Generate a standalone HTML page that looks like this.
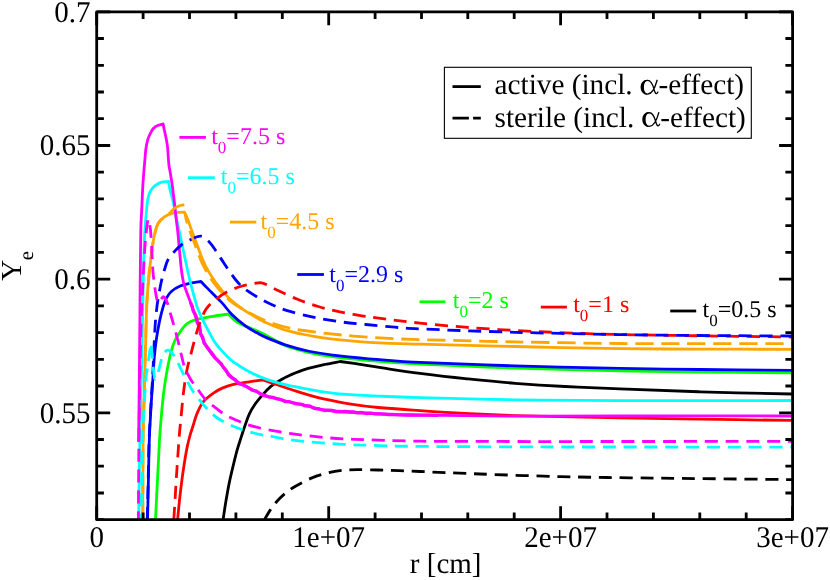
<!DOCTYPE html>
<html><head><meta charset="utf-8"><title>Ye vs r</title>
<style>
html,body{margin:0;padding:0;background:#fff;}
body{width:830px;height:580px;position:relative;overflow:hidden;font-family:"Liberation Serif",serif;}
</style></head><body>
<svg width="830" height="580" viewBox="0 0 830 580" style="position:absolute;left:0;top:0;will-change:transform;text-rendering:geometricPrecision">
<defs><clipPath id="pc"><rect x="96.7" y="11.8" width="695.9" height="507.9"/></clipPath></defs>
<rect x="0" y="0" width="830" height="580" fill="#ffffff"/>
<g clip-path="url(#pc)" fill="none" stroke-width="2.8" stroke-linejoin="round" stroke-linecap="butt">
<path d="M223.1,519.7 C223.5,516.9 224.7,508.6 225.7,502.6 C226.7,496.6 227.9,489.4 229.1,483.6 C230.2,477.9 231.3,473.6 232.6,468.1 C233.9,462.7 235.5,456.1 236.9,450.9 C238.3,445.7 239.8,441.4 241.2,437.1 C242.6,432.8 243.8,428.9 245.2,425.0 C246.6,421.1 247.8,417.2 249.4,413.8 C251.0,410.4 252.8,407.5 255.0,404.3 C257.2,401.1 260.2,397.6 262.8,394.6 C265.4,391.6 268.0,388.8 270.9,386.4 C273.8,384.0 276.8,382.1 280.2,380.2 C283.6,378.2 286.9,376.5 291.0,374.7 C295.1,372.9 299.4,371.0 305.0,369.3 C310.6,367.6 318.7,365.8 324.5,364.5 C330.3,363.2 337.4,362.0 340.0,361.5 C343.6,362.0 354.3,363.5 361.7,364.6 C369.1,365.7 374.7,366.7 384.4,368.2 C394.1,369.7 406.6,371.7 420.0,373.4 C433.4,375.1 449.2,377.0 465.0,378.6 C480.8,380.2 498.3,382.0 515.0,383.3 C531.7,384.6 547.5,385.6 565.0,386.5 C582.5,387.4 597.5,387.9 620.0,388.8 C642.5,389.7 671.3,390.9 700.0,391.8 C728.7,392.7 776.7,393.6 792.0,394.0" stroke="#000000"/>
<path d="M177.6,519.7 C178.0,515.4 179.2,502.6 180.2,494.0 C181.2,485.4 182.4,475.8 183.6,468.0 C184.8,460.2 186.0,452.8 187.1,447.4 C188.2,442.0 189.0,439.1 190.0,435.5 C191.0,431.9 191.8,429.8 193.0,426.0 C194.2,422.2 195.6,416.7 197.4,412.6 C199.2,408.5 201.0,404.5 203.8,401.2 C206.6,397.9 211.0,394.8 214.2,392.6 C217.4,390.4 219.6,389.3 222.8,387.9 C226.0,386.5 229.2,385.3 233.6,384.3 C238.0,383.3 244.2,382.5 249.1,381.8 C254.0,381.1 260.5,380.2 262.8,379.9 C265.2,380.7 272.1,383.1 277.1,384.8 C282.1,386.5 288.0,388.5 292.6,390.0 C297.2,391.5 300.0,392.5 305.0,393.9 C310.0,395.3 315.0,397.0 322.4,398.6 C329.8,400.2 340.0,402.3 349.3,403.8 C358.6,405.3 366.4,406.4 378.2,407.5 C390.0,408.6 405.5,409.6 420.0,410.6 C434.5,411.6 449.2,412.6 465.0,413.4 C480.8,414.2 489.2,414.9 515.0,415.6 C540.8,416.3 589.2,417.2 620.0,417.8 C650.8,418.4 671.3,418.8 700.0,419.2 C728.7,419.6 776.7,420.2 792.0,420.4" stroke="#ff0000"/>
<path d="M155.5,519.7 C155.8,513.1 156.8,493.3 157.5,480.0 C158.2,466.7 158.9,450.4 159.5,440.0 C160.1,429.6 160.5,425.7 161.2,417.6 C161.9,409.6 162.9,399.3 163.8,391.7 C164.7,384.1 165.7,378.4 166.8,372.0 C168.0,365.6 169.3,358.3 170.7,353.0 C172.1,347.7 173.4,343.9 175.0,340.3 C176.6,336.8 178.2,334.5 180.2,331.7 C182.2,328.9 184.5,325.6 187.1,323.6 C189.7,321.6 191.7,320.9 195.7,319.7 C199.7,318.5 205.8,317.5 211.2,316.6 C216.6,315.7 225.5,314.5 228.4,314.1 C229.8,315.5 233.7,319.9 237.1,322.2 C240.5,324.4 244.5,325.6 249.1,327.6 C253.7,329.7 258.7,331.5 264.7,334.5 C270.7,337.5 277.8,342.5 285.0,345.5 C292.2,348.5 299.9,350.4 307.9,352.3 C315.8,354.2 323.7,355.4 332.7,356.6 C341.7,357.9 351.3,358.8 361.7,359.8 C372.1,360.8 385.1,361.8 394.8,362.5 C404.5,363.2 400.0,363.1 420.0,364.0 C440.0,364.9 481.7,366.9 515.0,368.0 C548.3,369.1 589.2,370.2 620.0,370.9 C650.8,371.6 671.3,371.7 700.0,372.0 C728.7,372.3 776.7,372.7 792.0,372.8" stroke="#00ff00"/>
<path d="M147.6,519.7 C147.7,513.1 148.1,493.3 148.4,480.0 C148.7,466.7 148.9,451.8 149.3,440.0 C149.7,428.2 150.4,418.5 150.9,409.0 C151.4,399.5 152.0,391.7 152.6,383.1 C153.2,374.5 153.7,364.6 154.3,357.2 C154.9,349.8 155.5,345.0 156.4,339.0 C157.3,333.0 158.4,326.6 159.5,321.4 C160.6,316.2 161.8,311.5 162.9,307.6 C164.1,303.7 165.0,300.8 166.4,298.1 C167.8,295.4 169.3,293.2 171.6,291.2 C173.9,289.2 177.0,287.4 180.2,286.0 C183.3,284.6 187.1,283.9 190.5,283.1 C193.9,282.4 199.2,281.8 200.9,281.5 C202.6,283.3 207.8,288.6 211.2,292.1 C214.6,295.6 218.1,298.7 221.6,302.4 C225.1,306.1 227.9,310.5 231.9,314.5 C235.9,318.5 241.5,323.1 245.7,326.2 C249.9,329.2 253.5,330.9 257.0,332.8 C260.5,334.7 261.8,335.6 266.5,337.6 C271.2,339.6 278.3,342.6 285.2,344.8 C292.1,347.0 300.0,349.3 307.9,351.0 C315.8,352.7 323.7,353.9 332.7,355.1 C341.7,356.3 351.3,357.2 361.7,358.2 C372.1,359.2 385.1,360.2 394.8,360.9 C404.5,361.6 400.0,361.6 420.0,362.4 C440.0,363.2 481.7,364.9 515.0,365.9 C548.3,366.9 589.2,367.7 620.0,368.3 C650.8,368.9 671.3,369.2 700.0,369.5 C728.7,369.8 776.7,370.2 792.0,370.3" stroke="#0000ff"/>
<path d="M142.8,519.7 C142.9,506.4 142.8,461.3 143.1,440.0 C143.3,418.7 143.9,408.4 144.3,391.7 C144.7,375.0 145.2,355.3 145.7,340.0 C146.1,324.7 146.4,310.8 147.0,300.0 C147.6,289.2 148.3,282.4 149.0,275.0 C149.7,267.6 150.5,261.8 151.3,255.5 C152.1,249.2 152.9,242.5 154.0,237.2 C155.1,231.9 156.3,226.9 158.0,223.6 C159.7,220.3 161.7,218.9 164.0,217.2 C166.3,215.5 169.3,214.1 172.0,213.3 C174.7,212.5 178.1,212.5 180.2,212.3 C182.3,212.1 183.8,212.2 184.5,212.2 C185.0,213.3 186.4,216.1 187.6,219.0 C188.8,221.9 189.8,225.4 191.4,229.7 C193.0,234.0 195.2,239.8 197.1,244.8 C199.0,249.9 200.9,255.6 202.8,260.0 C204.7,264.4 206.3,267.6 208.5,271.4 C210.7,275.2 213.5,279.3 216.0,282.8 C218.5,286.3 220.8,289.1 223.6,292.3 C226.4,295.5 229.6,298.8 233.1,301.8 C236.6,304.8 241.3,308.1 244.5,310.3 C247.7,312.5 248.7,312.9 252.0,314.9 C255.3,316.8 259.3,319.6 264.5,322.0 C269.7,324.4 276.6,327.2 283.1,329.3 C289.7,331.4 296.2,332.9 303.8,334.5 C311.4,336.1 320.3,337.5 328.6,338.6 C336.9,339.7 344.1,340.4 353.4,341.1 C362.7,341.9 373.3,342.6 384.4,343.1 C395.5,343.6 398.2,343.6 420.0,344.2 C441.8,344.8 481.7,345.8 515.0,346.5 C548.3,347.2 589.2,348.3 620.0,348.7 C650.8,349.1 671.3,349.0 700.0,349.1 C728.7,349.2 776.7,349.3 792.0,349.3" stroke="#ffa500"/>
<path d="M138.7,519.7 C138.8,513.1 139.0,493.3 139.2,480.0 C139.4,466.7 139.6,453.3 139.9,440.0 C140.2,426.7 140.5,413.3 140.8,400.0 C141.1,386.7 141.4,373.3 141.7,360.0 C142.0,346.7 142.2,335.0 142.5,320.0 C142.8,305.0 143.1,284.7 143.5,270.0 C143.9,255.3 144.3,242.0 144.8,232.0 C145.3,222.0 146.1,215.5 146.6,210.0 C147.1,204.5 147.2,202.0 147.9,198.8 C148.6,195.6 149.3,193.2 150.5,191.0 C151.7,188.8 153.1,187.3 154.8,185.9 C156.5,184.5 158.6,183.1 160.9,182.4 C163.2,181.7 167.3,181.7 168.6,181.5 C168.8,182.5 169.1,185.4 169.5,187.6 C169.9,189.8 170.6,192.3 171.2,194.5 C171.8,196.7 172.3,197.8 172.9,200.5 C173.5,203.2 174.2,207.2 175.0,211.0 C175.8,214.8 176.5,218.9 177.4,223.0 C178.3,227.1 179.2,230.7 180.2,235.5 C181.2,240.3 182.4,246.3 183.6,251.7 C184.8,257.1 185.9,262.8 187.1,268.0 C188.2,273.2 189.3,278.3 190.5,283.0 C191.7,287.7 192.8,291.9 194.0,296.0 C195.2,300.1 196.0,303.7 197.4,307.6 C198.8,311.6 200.9,316.0 202.6,319.7 C204.3,323.4 205.8,326.0 207.8,329.7 C209.8,333.4 212.1,338.3 214.7,342.1 C217.3,345.9 220.7,349.5 223.3,352.4 C225.9,355.3 227.8,357.3 230.5,359.6 C233.2,361.9 236.2,363.9 239.8,366.2 C243.4,368.5 248.0,371.1 252.2,373.2 C256.3,375.3 260.5,377.0 264.7,378.6 C268.9,380.2 273.0,381.5 277.1,382.7 C281.2,383.9 284.9,384.7 289.5,385.7 C294.1,386.7 299.9,387.7 305.0,388.6 C310.1,389.6 314.4,390.5 320.0,391.4 C325.6,392.3 329.9,393.1 338.9,393.8 C347.9,394.6 360.6,395.2 374.1,395.9 C387.6,396.5 396.5,397.0 420.0,397.7 C443.5,398.4 481.7,399.3 515.0,399.8 C548.3,400.3 573.8,400.5 620.0,400.6 C666.2,400.7 763.3,400.5 792.0,400.5" stroke="#00ffff"/>
<path d="M138.6,442.0 C138.7,435.0 138.9,417.0 139.1,400.0 C139.3,383.0 139.5,360.0 139.7,340.0 C139.9,320.0 140.0,298.3 140.2,280.0 C140.4,261.7 140.6,241.7 140.8,230.0 C141.1,218.3 141.4,216.7 141.7,210.0 C142.0,203.3 142.3,195.8 142.6,190.0 C142.9,184.2 143.2,179.7 143.6,175.0 C143.9,170.3 144.3,166.2 144.7,162.0 C145.1,157.8 145.3,153.3 145.8,149.5 C146.3,145.7 147.1,141.8 147.9,139.1 C148.7,136.4 149.6,135.0 150.5,133.2 C151.4,131.4 152.2,129.5 153.5,128.2 C154.8,126.9 156.7,126.0 158.3,125.3 C159.9,124.6 162.3,124.1 163.1,123.9 C163.2,124.6 163.6,126.2 163.9,127.9 C164.2,129.6 164.7,131.6 165.2,134.0 C165.7,136.4 166.5,140.0 166.9,142.6 C167.3,145.2 167.6,147.2 167.8,149.5 C168.0,151.8 168.0,153.8 168.2,156.4 C168.4,159.0 168.6,162.2 168.9,165.0 C169.2,167.8 169.8,169.7 170.3,172.9 C170.8,176.1 171.6,180.5 172.1,184.1 C172.6,187.7 173.0,191.1 173.4,194.5 C173.8,197.9 174.3,201.0 174.7,204.8 C175.1,208.6 175.5,213.0 176.0,217.5 C176.5,222.0 177.2,226.3 177.8,232.0 C178.4,237.7 179.0,245.5 179.6,251.7 C180.2,257.9 180.7,263.9 181.3,269.0 C181.9,274.1 182.6,278.4 183.4,282.0 C184.2,285.6 184.8,286.9 186.0,290.3 C187.2,293.7 189.0,298.4 190.5,302.4 C192.0,306.4 193.4,310.5 194.8,314.5 C196.2,318.5 197.9,322.8 199.1,326.6 C200.3,330.4 200.8,334.0 202.2,337.5 C203.5,341.0 205.4,344.5 207.2,347.5 C209.0,350.5 211.1,353.3 212.9,355.5 C214.7,357.7 215.9,357.9 218.1,360.5 C220.3,363.1 223.6,368.0 225.9,370.9 C228.2,373.8 229.8,375.5 232.1,377.6 C234.4,379.7 236.1,381.3 239.5,383.3 C242.9,385.3 248.1,387.7 252.3,389.7 C256.5,391.7 260.6,393.6 264.7,395.2 C268.8,396.8 272.9,397.9 277.0,399.0 C281.1,400.1 284.8,400.9 289.5,402.0 C294.2,403.1 299.2,404.0 305.0,405.3 C310.8,406.6 317.1,408.9 324.5,410.0 C331.9,411.1 339.3,411.3 349.3,412.0 C359.3,412.7 372.6,413.6 384.4,414.1 C396.2,414.6 398.2,414.8 420.0,415.1 C441.8,415.4 481.7,416.0 515.0,416.1 C548.3,416.2 573.8,415.8 620.0,415.8 C666.2,415.8 763.3,416.0 792.0,416.0" stroke="#ff00ff"/>
<path d="M190.5,302.4 L192.2,306.3 L193.1,310.6 L195.3,314.3 L196.8,318.4 L197.2,322.8 L199.6,326.4 L200.2,330.4 L200.5,334.1 L202.7,337.3 L204.0,342.9 L207.4,347.4 L210.5,351.5 L213.3,355.1 L215.2,358.0 L217.9,360.7 L221.0,363.4 L223.5,367.3 L226.3,370.6 L228.6,374.9 L231.9,377.8 L235.7,380.0 L239.2,383.8 L243.6,384.9 L248.0,387.4 L252.1,390.2 L256.7,391.2 L260.4,394.0 L264.5,395.7 L268.7,396.9 L273.0,397.3 L277.1,398.7 L281.2,399.5 L285.0,401.5 L289.6,401.7 L293.1,402.8 L296.8,403.8 L300.8,404.1 L304.9,405.8 L309.6,405.9 L314.0,408.3 L319.2,409.0 L324.4,410.5 L328.2,410.2 L332.0,410.4 L335.9,411.6 L340.0,411.9 L344.5,411.5 L349.3,412.0 L353.2,411.9 L357.3,412.9 L361.7,412.5 L366.2,413.5 L370.8,413.1 L375.3,413.9 L379.9,413.8 L384.4,414.2 L388.4,414.5 L391.9,414.5 L395.1,414.6 L398.5,414.8 L402.3,414.9 L406.9,415.0 L412.7,415.0 L420.0,415.1 L423.2,415.1 L426.7,415.2 L430.4,415.2 L434.2,415.3 L438.3,415.4" stroke="#ff00ff" stroke-width="3.3"/>
<path d="M264.4,519.7 C265.4,518.0 268.5,512.6 270.5,509.6 C272.5,506.6 274.2,504.4 276.6,501.7 C279.0,499.0 281.9,496.1 285.0,493.5 C288.1,490.9 291.0,488.8 295.5,486.2 C300.0,483.6 306.5,480.1 312.0,477.9 C317.5,475.6 323.4,474.0 328.6,472.7 C333.8,471.4 338.3,470.8 343.1,470.3 C347.9,469.8 351.6,469.7 357.5,469.6 C363.4,469.6 371.3,469.8 378.2,470.0 C385.1,470.2 391.9,470.4 398.9,470.7 C405.9,470.9 406.5,470.9 420.0,471.5 C433.5,472.1 456.7,473.1 480.0,474.0 C503.3,474.9 535.0,476.0 560.0,476.6 C585.0,477.2 606.7,477.5 630.0,477.8 C653.3,478.1 673.0,478.3 700.0,478.6 C727.0,478.9 776.7,479.4 792.0,479.6" stroke="#000000" stroke-dasharray="13 7.8" stroke-dashoffset="0.8"/>
<path d="M173.8,519.7 C174.2,514.0 175.3,495.3 175.9,485.3 C176.5,475.3 177.0,467.8 177.6,459.5 C178.2,451.2 178.7,442.3 179.3,435.3 C179.9,428.3 180.3,424.9 181.0,417.6 C181.7,410.3 182.6,399.8 183.6,391.7 C184.6,383.6 185.9,375.5 187.1,369.3 C188.3,363.1 189.7,359.0 190.8,354.5 C192.0,350.0 192.6,347.1 194.0,342.1 C195.4,337.2 197.1,330.3 199.1,324.8 C201.1,319.3 203.1,313.6 206.0,309.3 C208.9,305.0 212.7,302.0 216.4,299.0 C220.1,296.0 224.1,293.4 228.4,291.2 C232.7,289.0 237.9,287.3 242.2,286.0 C246.5,284.7 250.8,284.0 254.0,283.5 C257.2,283.0 259.1,282.5 261.4,282.8 C263.7,283.1 265.4,284.2 268.0,285.4 C270.6,286.6 272.0,287.7 276.9,290.0 C281.8,292.3 290.7,296.6 297.6,299.3 C304.5,302.1 311.4,304.4 318.3,306.5 C325.2,308.6 331.7,310.1 338.9,311.7 C346.1,313.2 354.1,314.6 361.7,315.8 C369.3,317.0 374.7,317.7 384.4,318.9 C394.1,320.1 406.6,321.7 420.0,323.1 C433.4,324.5 449.2,326.0 465.0,327.2 C480.8,328.4 498.3,329.6 515.0,330.5 C531.7,331.4 547.5,332.1 565.0,332.8 C582.5,333.5 597.5,334.0 620.0,334.5 C642.5,335.0 671.3,335.4 700.0,335.8 C728.7,336.2 776.7,336.8 792.0,337.0" stroke="#ff0000" stroke-dasharray="13 7.8" stroke-dashoffset="0"/>
<path d="M147.2,519.7 C147.4,513.1 147.9,493.3 148.2,480.0 C148.5,466.7 148.7,451.8 149.1,440.0 C149.5,428.2 150.2,418.5 150.7,409.0 C151.2,399.5 151.8,391.8 152.3,383.1 C152.8,374.4 153.2,364.7 153.6,357.0 C154.0,349.3 154.2,342.8 154.5,337.0 C154.8,331.2 155.0,327.0 155.4,322.0 C155.8,317.0 156.4,311.3 156.9,307.0 C157.4,302.7 158.0,299.6 158.6,296.0 C159.2,292.4 159.9,288.7 160.5,285.5 C161.1,282.3 161.7,279.8 162.4,277.0 C163.1,274.2 163.8,271.9 164.7,269.0 C165.6,266.1 166.4,262.5 168.1,259.5 C169.8,256.5 172.7,253.4 175.0,250.9 C177.3,248.4 179.3,246.4 181.9,244.5 C184.5,242.6 187.3,241.1 190.5,239.7 C193.7,238.3 197.7,235.8 200.9,236.2 C204.1,236.6 206.9,239.6 209.5,242.2 C212.1,244.8 214.1,248.4 216.4,251.7 C218.7,255.0 221.0,258.7 223.3,262.1 C225.6,265.6 227.9,269.2 230.2,272.4 C232.5,275.6 234.5,278.6 237.1,281.5 C239.7,284.4 242.2,287.1 245.7,289.7 C249.1,292.3 253.8,294.9 257.8,297.3 C261.9,299.7 265.1,301.6 270.0,303.8 C274.9,306.0 280.2,308.5 287.2,310.7 C294.2,312.9 303.4,315.1 312.0,316.9 C320.6,318.7 329.9,320.3 338.9,321.6 C347.9,322.9 356.5,323.6 365.8,324.5 C375.1,325.4 385.8,326.5 394.8,327.2 C403.8,327.9 400.0,328.0 420.0,328.9 C440.0,329.8 481.7,331.4 515.0,332.3 C548.3,333.2 589.2,334.1 620.0,334.6 C650.8,335.1 671.3,335.3 700.0,335.5 C728.7,335.7 776.7,335.9 792.0,336.0" stroke="#0000ff" stroke-dasharray="13 7.8" stroke-dashoffset="0"/>
<path d="M142.8,519.7 C142.9,506.4 142.8,461.3 143.1,440.0 C143.3,418.7 143.9,408.4 144.3,391.7 C144.7,375.0 145.2,355.3 145.7,340.0 C146.1,324.7 146.4,310.8 147.0,300.0 C147.6,289.2 148.3,282.4 149.0,275.0 C149.7,267.6 150.5,261.8 151.3,255.5 C152.1,249.2 152.9,242.5 154.0,237.2 C155.1,231.9 156.3,226.9 158.0,223.6 C159.7,220.3 162.6,218.5 164.0,217.2 C165.4,215.9 165.5,216.3 166.5,215.6 C167.5,214.9 168.7,214.0 169.8,213.0 C170.9,212.0 171.8,210.5 173.0,209.5 C174.2,208.5 175.4,207.7 176.7,207.0 C177.9,206.3 179.2,205.9 180.5,205.5 C181.8,205.1 184.1,204.9 184.8,204.8" stroke="#ffa500" stroke-dasharray="18.2 7.8"/>
<path d="M185.0,213.0 C185.2,214.1 185.4,216.7 186.2,219.6 C187.0,222.5 188.2,226.2 189.7,230.6 C191.2,234.9 193.5,240.6 195.4,245.7 C197.3,250.8 199.2,256.4 201.1,260.9 C203.0,265.3 204.8,268.5 207.0,272.4 C209.2,276.2 212.0,280.5 214.6,284.0 C217.2,287.5 219.6,290.2 222.5,293.3 C225.4,296.4 228.7,299.7 232.3,302.5 C235.9,305.3 240.8,308.2 244.1,310.2 C247.4,312.1 248.6,312.5 252.0,314.2 C255.4,315.9 259.3,318.2 264.5,320.3 C269.7,322.4 276.6,324.8 283.1,326.5 C289.7,328.2 296.2,329.3 303.8,330.5 C311.4,331.7 320.3,332.7 328.6,333.6 C336.9,334.5 344.1,335.3 353.4,336.1 C362.7,336.9 373.3,337.6 384.4,338.2 C395.5,338.8 398.2,339.0 420.0,339.6 C441.8,340.2 481.7,341.2 515.0,341.9 C548.3,342.5 589.2,343.2 620.0,343.5 C650.8,343.8 671.3,343.6 700.0,343.6 C728.7,343.6 776.7,343.6 792.0,343.6" stroke="#ffa500" stroke-dasharray="18.2 7.8" stroke-dashoffset="7.4"/>
<path d="M140.9,519.7 C141.1,513.1 141.5,493.3 141.8,480.0 C142.1,466.7 142.3,451.7 142.6,440.0 C142.9,428.3 143.4,418.7 143.8,410.0 C144.2,401.3 144.8,393.9 145.2,388.0 C145.6,382.1 145.8,378.9 146.3,374.9 C146.8,370.9 147.4,368.0 148.0,364.0 C148.6,360.0 149.3,354.5 149.8,351.0 C150.3,347.5 150.5,342.7 150.9,343.0 C151.3,343.3 151.6,348.8 152.0,353.0 C152.4,357.2 152.8,363.7 153.3,368.0 C153.8,372.3 154.3,377.5 154.8,378.8 C155.3,380.1 155.9,377.3 156.5,376.0 C157.1,374.7 157.8,373.1 158.5,371.0 C159.2,368.9 159.7,366.0 160.4,363.5 C161.1,361.0 161.7,357.9 162.5,356.0 C163.3,354.1 164.1,353.0 165.0,352.0 C165.9,351.0 166.9,350.1 168.0,350.2 C169.1,350.3 170.2,351.2 171.5,352.5 C172.8,353.8 174.2,355.7 175.5,357.8 C176.8,359.9 177.7,362.2 179.0,365.0 C180.3,367.8 182.2,371.8 183.6,374.5 C185.0,377.2 186.1,378.9 187.5,381.5 C188.9,384.1 189.7,386.3 192.2,390.0 C194.7,393.7 199.8,400.4 202.6,403.8 C205.4,407.2 206.7,408.2 209.0,410.5 C211.3,412.8 213.5,415.3 216.6,417.5 C219.7,419.7 223.8,421.8 227.4,423.6 C231.0,425.4 233.9,426.7 238.3,428.3 C242.7,429.9 248.6,431.7 253.8,433.0 C259.0,434.3 264.1,435.2 269.3,436.2 C274.5,437.2 279.2,437.9 284.8,438.8 C290.4,439.7 293.3,440.4 303.0,441.3 C312.7,442.2 330.3,443.6 343.1,444.3 C355.9,445.0 367.2,445.2 380.0,445.6 C392.8,446.0 397.5,446.2 420.0,446.4 C442.5,446.6 481.7,446.8 515.0,446.9 C548.3,447.0 573.8,447.0 620.0,447.0 C666.2,447.0 763.3,447.1 792.0,447.1" stroke="#00ffff" stroke-dasharray="13 7.8" stroke-dashoffset="7.1"/>
<path d="M138.4,519.7 C138.4,513.1 138.5,493.3 138.6,480.0 C138.7,466.7 138.8,453.3 138.9,440.0 C139.1,426.7 139.3,413.3 139.5,400.0 C139.7,386.7 139.9,373.3 140.2,360.0 C140.5,346.7 140.8,330.8 141.2,320.0 C141.6,309.2 142.0,304.2 142.4,295.0 C142.8,285.8 143.3,273.7 143.8,265.0 C144.3,256.3 144.7,249.3 145.2,243.0 C145.7,236.7 146.3,231.0 146.8,227.0 C147.3,223.0 147.8,219.3 148.3,219.0 C148.8,218.7 149.4,222.4 149.8,225.0 C150.2,227.6 150.5,229.2 150.9,234.5 C151.3,239.8 151.7,250.3 152.1,256.9 C152.5,263.5 152.7,268.9 153.2,274.1 C153.7,279.3 154.3,283.9 154.9,288.0 C155.5,292.1 156.2,296.5 156.8,299.0 C157.4,301.5 157.9,302.7 158.6,302.8 C159.3,302.9 160.2,300.5 161.0,299.5 C161.8,298.5 162.7,296.6 163.5,296.6 C164.3,296.6 165.1,298.1 165.8,299.5 C166.6,300.9 167.0,301.6 168.0,304.7 C169.0,307.8 170.5,313.9 171.7,318.0 C172.9,322.1 173.9,325.4 175.0,329.5 C176.1,333.6 177.2,337.9 178.4,342.5 C179.6,347.1 180.8,352.9 181.9,357.2 C183.0,361.5 183.5,364.8 185.0,368.5 C186.5,372.2 188.9,376.4 190.7,379.5 C192.5,382.6 193.4,383.3 196.0,386.8 C198.6,390.3 202.8,396.9 206.0,400.3 C209.2,403.7 211.9,405.0 215.0,407.3 C218.1,409.6 220.9,412.2 224.3,414.3 C227.7,416.4 231.6,418.1 235.2,419.7 C238.8,421.3 241.6,422.8 246.0,424.2 C250.4,425.6 256.4,427.2 261.6,428.4 C266.8,429.6 272.1,430.5 277.1,431.4 C282.1,432.3 286.8,432.9 291.4,433.6 C296.0,434.3 299.8,434.8 305.0,435.4 C310.2,436.0 314.3,436.6 322.4,437.3 C330.5,438.0 337.1,438.7 353.4,439.3 C369.7,439.9 393.1,440.8 420.0,441.2 C446.9,441.6 481.7,441.4 515.0,441.5 C548.3,441.6 573.8,441.5 620.0,441.5 C666.2,441.5 763.3,441.4 792.0,441.4" stroke="#ff00ff" stroke-dasharray="13 7.8" stroke-dashoffset="4.5"/>
</g>
<g stroke="#000" stroke-width="2.8" fill="none" stroke-linecap="butt">
<path d="M96.7,519.7 v-13.5 M96.7,11.8 v13.5 M143.1,519.7 v-7.2 M143.1,11.8 v7.2 M189.5,519.7 v-7.2 M189.5,11.8 v7.2 M235.9,519.7 v-7.2 M235.9,11.8 v7.2 M282.3,519.7 v-7.2 M282.3,11.8 v7.2 M328.7,519.7 v-13.5 M328.7,11.8 v13.5 M375.1,519.7 v-7.2 M375.1,11.8 v7.2 M421.5,519.7 v-7.2 M421.5,11.8 v7.2 M467.8,519.7 v-7.2 M467.8,11.8 v7.2 M514.2,519.7 v-7.2 M514.2,11.8 v7.2 M560.6,519.7 v-13.5 M560.6,11.8 v13.5 M607.0,519.7 v-7.2 M607.0,11.8 v7.2 M653.4,519.7 v-7.2 M653.4,11.8 v7.2 M699.8,519.7 v-7.2 M699.8,11.8 v7.2 M746.2,519.7 v-7.2 M746.2,11.8 v7.2 M792.6,519.7 v-13.5 M792.6,11.8 v13.5 M96.7,519.7 h7.2 M792.6,519.7 h-7.2 M96.7,493.0 h7.2 M792.6,493.0 h-7.2 M96.7,466.2 h7.2 M792.6,466.2 h-7.2 M96.7,439.5 h7.2 M792.6,439.5 h-7.2 M96.7,412.8 h13.5 M792.6,412.8 h-13.5 M96.7,386.0 h7.2 M792.6,386.0 h-7.2 M96.7,359.3 h7.2 M792.6,359.3 h-7.2 M96.7,332.6 h7.2 M792.6,332.6 h-7.2 M96.7,305.8 h7.2 M792.6,305.8 h-7.2 M96.7,279.1 h13.5 M792.6,279.1 h-13.5 M96.7,252.4 h7.2 M792.6,252.4 h-7.2 M96.7,225.7 h7.2 M792.6,225.7 h-7.2 M96.7,198.9 h7.2 M792.6,198.9 h-7.2 M96.7,172.2 h7.2 M792.6,172.2 h-7.2 M96.7,145.5 h13.5 M792.6,145.5 h-13.5 M96.7,118.7 h7.2 M792.6,118.7 h-7.2 M96.7,92.0 h7.2 M792.6,92.0 h-7.2 M96.7,65.3 h7.2 M792.6,65.3 h-7.2 M96.7,38.5 h7.2 M792.6,38.5 h-7.2 M96.7,11.8 h13.5 M792.6,11.8 h-13.5"/>
<rect x="96.7" y="11.8" width="695.9" height="507.9" stroke-linejoin="round"/>
</g>
<g font-family="Liberation Serif, serif" font-size="29" fill="#000">
<text transform="translate(96.7,547) scale(1,1.035)" text-anchor="middle">0</text>
<text transform="translate(328.7,547) scale(1,1.035)" text-anchor="middle">1e+07</text>
<text transform="translate(560.6,547) scale(1,1.035)" text-anchor="middle">2e+07</text>
<text transform="translate(792.6,547) scale(1,1.035)" text-anchor="middle">3e+07</text>
<text transform="translate(90.4,21.6) scale(1,1.035)" text-anchor="end">0.7</text>
<text transform="translate(90.4,155.3) scale(1,1.035)" text-anchor="end">0.65</text>
<text transform="translate(90.4,288.9) scale(1,1.035)" text-anchor="end">0.6</text>
<text transform="translate(90.4,423.2) scale(1,1.035)" text-anchor="end">0.55</text>
<text x="445.7" y="572.7" text-anchor="middle">r [cm]</text>
<text transform="translate(21.2,280.8) rotate(-90)" x="0" y="0">Y<tspan font-size="20.6" dy="12" dx="-0.4">e</tspan></text>
</g>
<rect x="444.4" y="67.3" width="306.9" height="71.0" fill="#fff" stroke="#000" stroke-width="1.1"/>
<path d="M452.5,86.6 H480.8" stroke="#000" stroke-width="2.8"/>
<path d="M452.5,118.2 H468.9 M473.1,118.2 H480.8" stroke="#000" stroke-width="2.8"/>
<g font-family="Liberation Serif, serif" font-size="29.25" fill="#000">
<text x="494.6" y="94.3">active (incl. </text>
<g transform="translate(640.6,79.6)"><path d="M16.5,0.7 C15.2,5.5 12.6,14.5 7,14.5 C3.4,14.5 1.8,11 1.8,7.6 C1.8,4 3.4,0.8 7,0.8 C11.8,0.8 13,8.3 14,11.6 C14.7,13.9 16,15.2 17.3,12.4" fill="none" stroke="#000" stroke-width="1.35" stroke-linecap="round"/><path d="M7,0.15 C2.6,0.15 0,3.5 0,7.6 C0,11.7 2.6,15.15 7,15.15 C4.5,14 3.3,11 3.3,7.6 C3.3,4.2 4.5,1.3 7,0.15 Z" fill="#000"/></g>
<text x="658.6" y="94.3">-effect)</text>
<text x="494.6" y="126.6">sterile (incl. </text>
<g transform="translate(642.3,111.9)"><path d="M16.5,0.7 C15.2,5.5 12.6,14.5 7,14.5 C3.4,14.5 1.8,11 1.8,7.6 C1.8,4 3.4,0.8 7,0.8 C11.8,0.8 13,8.3 14,11.6 C14.7,13.9 16,15.2 17.3,12.4" fill="none" stroke="#000" stroke-width="1.35" stroke-linecap="round"/><path d="M7,0.15 C2.6,0.15 0,3.5 0,7.6 C0,11.7 2.6,15.15 7,15.15 C4.5,14 3.3,11 3.3,7.6 C3.3,4.2 4.5,1.3 7,0.15 Z" fill="#000"/></g>
<text x="660.3" y="126.6">-effect)</text>
</g>
<path d="M179.4,137.4 H205.9" stroke="#ff00ff" stroke-width="2.8"/>
<text font-family="Liberation Serif, serif" font-size="24" fill="#ff00ff" x="211.2" y="143.7">t<tspan font-size="17" dy="9">0</tspan><tspan dy="-9">=7.5 s</tspan></text>
<path d="M187.9,177.7 H214.8" stroke="#00ffff" stroke-width="2.8"/>
<text font-family="Liberation Serif, serif" font-size="24" fill="#00ffff" x="220.8" y="183.6">t<tspan font-size="17" dy="9">0</tspan><tspan dy="-9">=6.5 s</tspan></text>
<path d="M230.0,222.1 H256.3" stroke="#ffa500" stroke-width="2.8"/>
<text font-family="Liberation Serif, serif" font-size="24" fill="#ffa500" x="260.6" y="228.8">t<tspan font-size="17" dy="9">0</tspan><tspan dy="-9">=4.5 s</tspan></text>
<path d="M297.2,274.5 H323.9" stroke="#0000ff" stroke-width="2.8"/>
<text font-family="Liberation Serif, serif" font-size="24" fill="#0000ff" x="329.3" y="281.7">t<tspan font-size="17" dy="9">0</tspan><tspan dy="-9">=2.9 s</tspan></text>
<path d="M419.5,301.8 H445.5" stroke="#00ff00" stroke-width="2.8"/>
<text font-family="Liberation Serif, serif" font-size="24" fill="#00ff00" x="452.8" y="307.6">t<tspan font-size="17" dy="9">0</tspan><tspan dy="-9">=2 s</tspan></text>
<path d="M540.8,307.1 H566.9" stroke="#ff0000" stroke-width="2.8"/>
<text font-family="Liberation Serif, serif" font-size="24" fill="#ff0000" x="573.2" y="312.4">t<tspan font-size="17" dy="9">0</tspan><tspan dy="-9">=1 s</tspan></text>
<path d="M670.2,311.0 H696.2" stroke="#000000" stroke-width="2.8"/>
<text font-family="Liberation Serif, serif" font-size="24" fill="#000000" x="702.5" y="317.2">t<tspan font-size="17" dy="9">0</tspan><tspan dy="-9">=0.5 s</tspan></text>
</svg>
</body></html>
